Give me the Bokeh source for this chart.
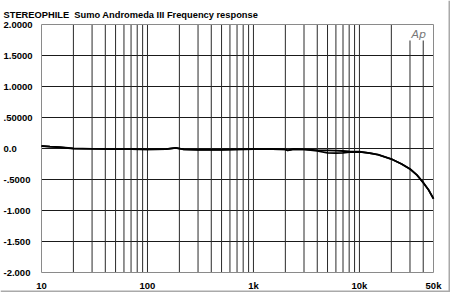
import math
from bokeh.plotting import figure
from bokeh.models import Range1d
from bokeh.core.properties import value
from bokeh.embed import file_html
from bokeh.resources import INLINE

title_text = "STEREOPHILE\u00a0 Sumo Andromeda III Frequency response"

freq = [10, 12, 15, 20, 30, 50, 70, 100, 150, 185, 220, 300, 500, 700, 1000,
        1500, 2000, 2100, 2400, 3000, 4000, 5000, 6000, 7000, 8000, 10000,
        12500, 15000, 20000, 25000, 30000, 35000, 40000, 45000, 50000]
ch_left = [0.04, 0.03, 0.02, 0.0, -0.005, -0.01, -0.01, -0.015, -0.01, 0.01,
           -0.015, -0.02, -0.02, -0.015, -0.01, -0.01, -0.015, -0.03, -0.01,
           -0.015, -0.025, -0.03, -0.035, -0.04, -0.045, -0.05,
           -0.075, -0.1, -0.17, -0.25, -0.33, -0.43, -0.55, -0.67, -0.81]
ch_right = [0.04, 0.03, 0.02, 0.0, -0.005, -0.01, -0.01, -0.015, -0.01, 0.01,
            -0.015, -0.02, -0.02, -0.015, -0.01, -0.01, -0.015, -0.03, -0.01,
            -0.015, -0.04, -0.07, -0.075, -0.07, -0.06, -0.055,
            -0.075, -0.1, -0.17, -0.25, -0.33, -0.43, -0.55, -0.67, -0.81]

y_ticks = [2.0, 1.5, 1.0, 0.5, 0.0, -0.5, -1.0, -1.5, -2.0]
y_labels = ["2.0000", "1.5000", "1.0000", ".50000", "0.0", "-.5000", "-1.000", "-1.500", "-2.000"]
x_ticks = [10, 100, 1000, 10000, 50000]
x_labels = ["10", "100", "1k", "10k", "50k"]

X_MIN, X_MAX = 10, 50000
Y_MIN, Y_MAX = -2.0, 2.0

# layout (pixels)
W, H = 450, 292
PX_L, PX_R, PX_T, PX_B = 41, 433, 24, 272
FONT = "Liberation Sans"

lx0, lx1 = math.log10(X_MIN), math.log10(X_MAX)
ppd = (PX_R - PX_L) / (lx1 - lx0)
xr = Range1d(10 ** (lx0 - PX_L / ppd), 10 ** (lx1 + (W - PX_R) / ppd))
ppu = (PX_B - PX_T) / (Y_MAX - Y_MIN)
yr = Range1d(Y_MIN - (H - PX_B) / ppu, Y_MAX + PX_T / ppu)

p = figure(width=W, height=H, x_axis_type="log", x_axis_location=None, y_axis_location=None,
           output_backend="svg", toolbar_location=None, x_range=xr, y_range=yr,
           min_border=0)
p.xgrid.visible = False
p.ygrid.visible = False
p.outline_line_color = None
p.background_fill_color = "white"
p.border_fill_color = "white"

# grid lines
hy = y_ticks[1:-1]
p.segment(x0=[X_MIN] * len(hy), x1=[X_MAX] * len(hy), y0=hy, y1=hy,
          line_color="#1a1a1a", line_width=1)

vx, vy0, vy1 = [], [], []
logo_top = Y_MAX - 16 / ppu
for dec in [10, 100, 1000, 10000]:
    for m in range(1, 10):
        f = dec * m
        if f <= X_MIN or f >= X_MAX:
            continue
        vx.append(f)
        vy0.append(Y_MIN)
        vy1.append(Y_MAX if f < 25000 else logo_top)
p.segment(x0=vx, x1=vx, y0=vy0, y1=vy1, line_color="#2a2a2a", line_width=1)

# frame
p.quad(left=[X_MIN], right=[X_MAX], bottom=[Y_MIN], top=[Y_MAX],
       fill_color=None, line_color="#8a8a8a", line_width=1)

# data
p.line(freq, ch_left, line_color="black", line_width=1.8)
p.line(freq, ch_right, line_color="black", line_width=1.6)

# y labels
p.text(x=[X_MIN] * len(y_ticks), y=y_ticks, text=y_labels, x_offset=-38,
       text_font=value(FONT), text_font_style="bold", text_font_size="9.5px",
       text_baseline="middle", text_align="left", text_color="black")

# x labels
p.text(x=x_ticks, y=[Y_MIN] * len(x_ticks), text=x_labels, y_offset=13,
       text_font=value(FONT), text_font_style="bold", text_font_size="9.5px",
       text_baseline="middle", text_align="center", text_color="black")

# title
p.text(x=[X_MIN], y=[Y_MAX], text=[title_text], x_offset=-38, y_offset=-10,
       text_font=value(FONT), text_font_style="bold", text_font_size="9.3px",
       text_baseline="alphabetic", text_align="left", text_color="black")

# Ap logo
p.text(x=[31000], y=[Y_MAX], text=["Ap"], y_offset=10,
       text_font=value("DejaVu Sans"), text_font_style="italic", text_font_size="11px",
       text_baseline="alphabetic", text_align="left", text_color="#777777")

# image edge shading (right and bottom)
p.segment(x0=[xr.end], x1=[xr.end], y0=[yr.start], y1=[yr.end],
          line_color="#aaaaaa", line_width=4)
p.segment(x0=[xr.start], x1=[xr.end], y0=[yr.start], y1=[yr.start],
          line_color="#aaaaaa", line_width=4)

open("out.html", "w").write(file_html(p, INLINE))
